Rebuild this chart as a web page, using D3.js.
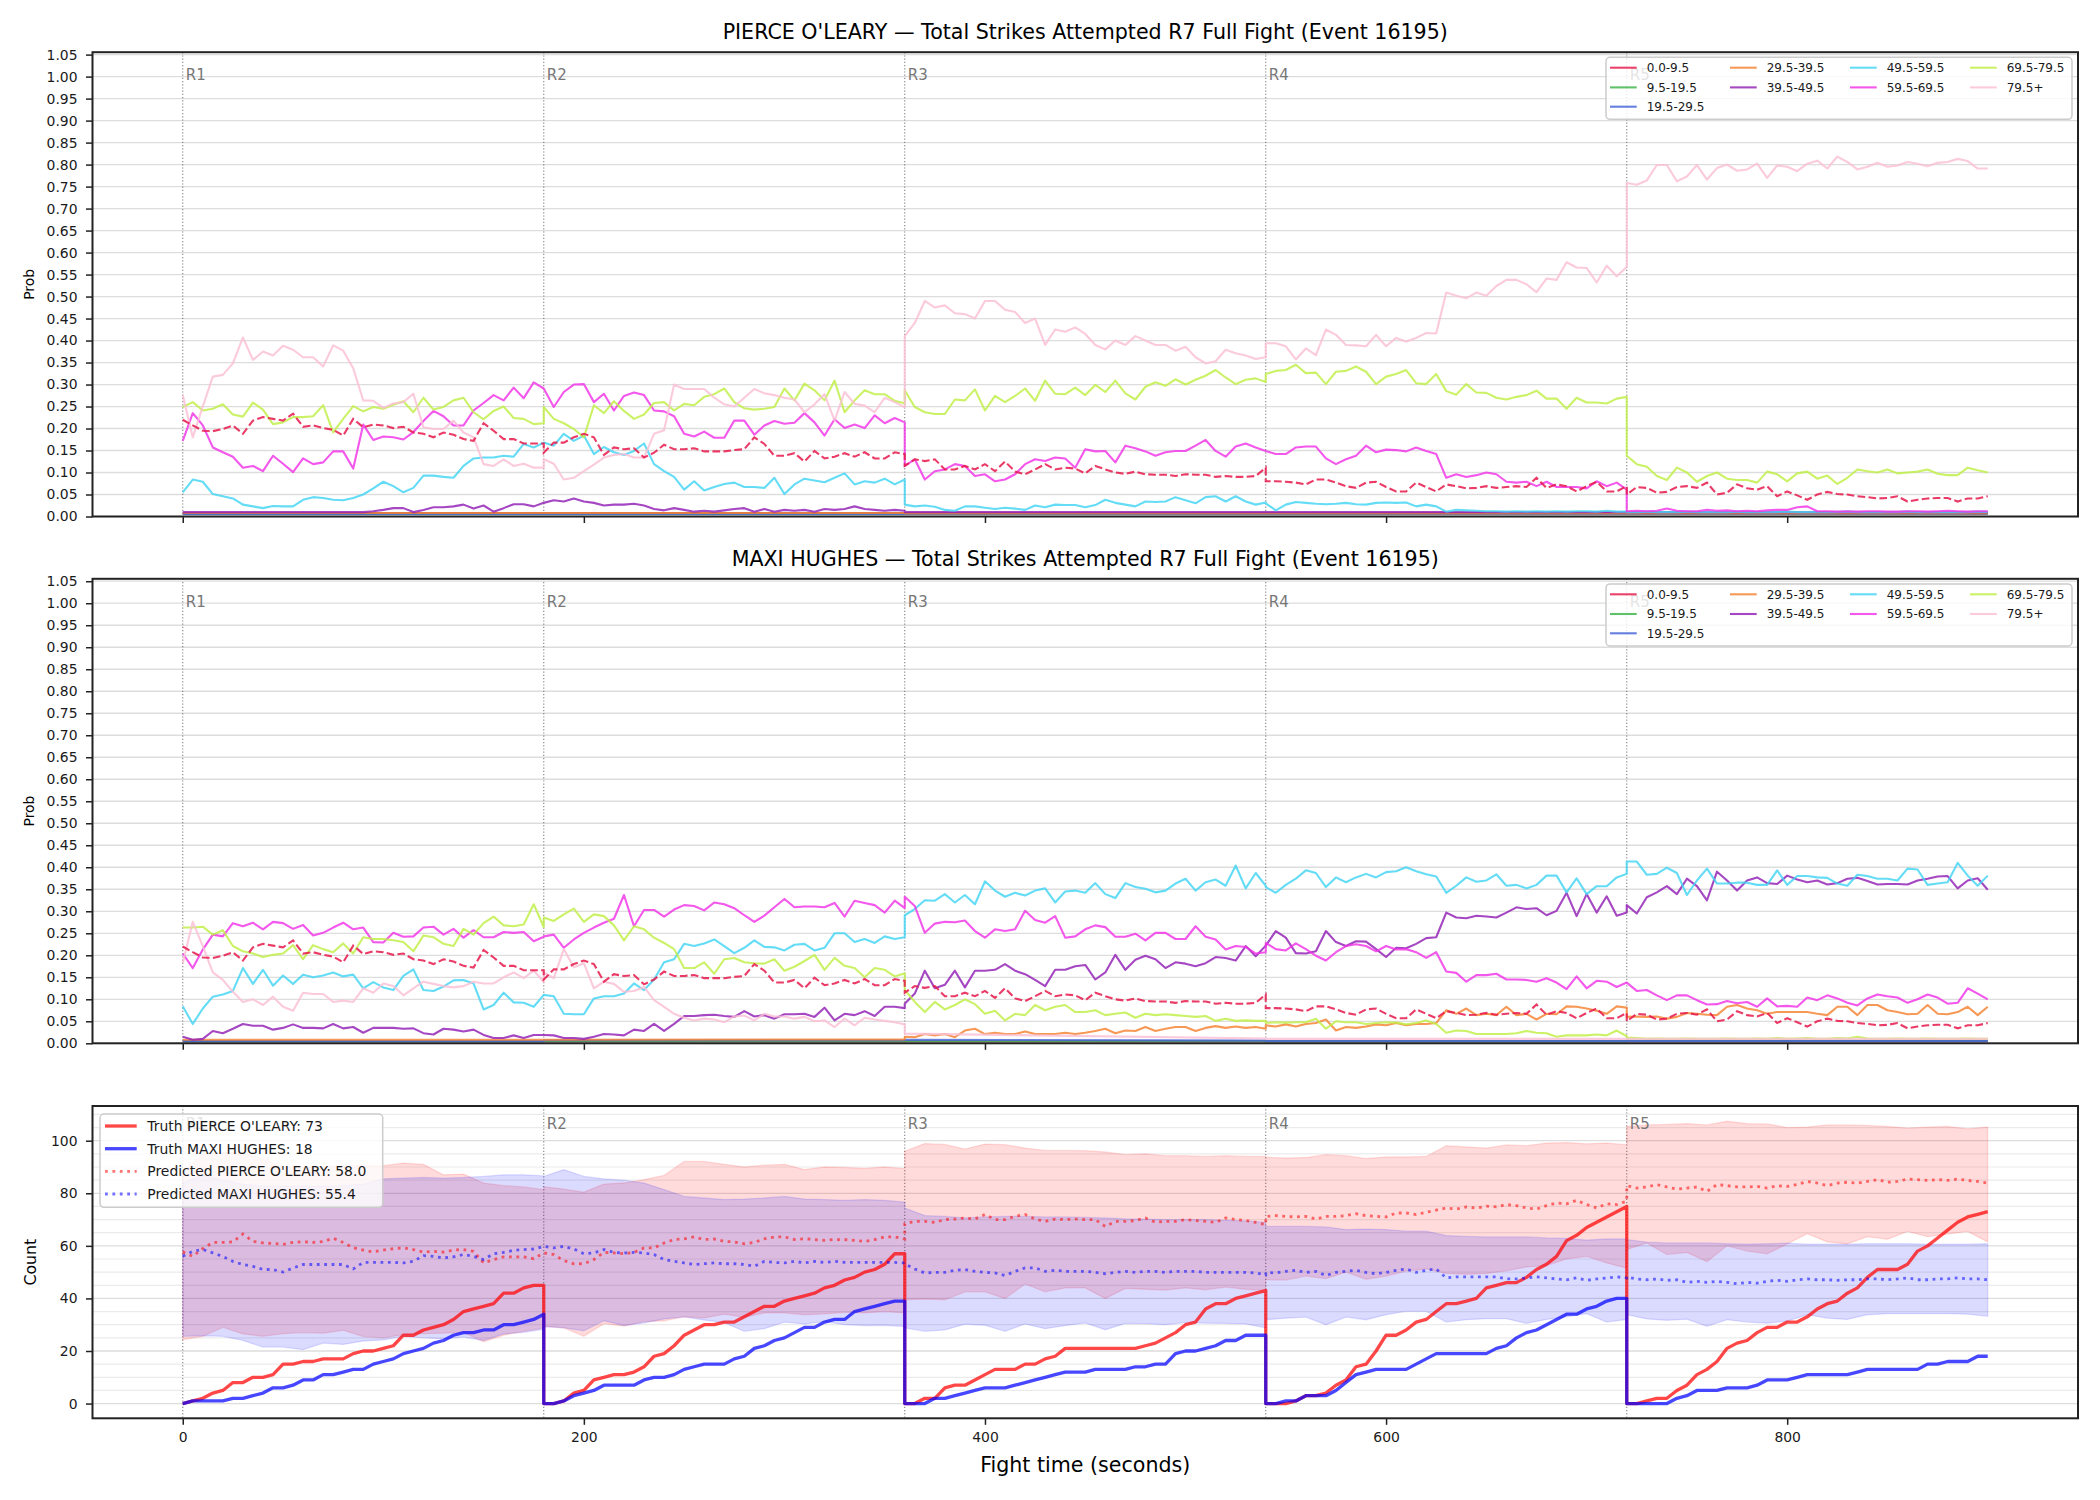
<!DOCTYPE html>
<html><head><meta charset="utf-8">
<script src="https://cdn.jsdelivr.net/npm/d3@7"></script>
<style>body{margin:0;background:#fff}svg{display:block;font-family:"DejaVu Sans",sans-serif}</style>
</head><body><svg id="c" width="2100" height="1500"></svg>
<script>
// ---------------- DATA ----------------
const fighterA = "PIERCE O'LEARY";
const fighterB = "MAXI HUGHES";
const titleSuffix = " — Total Strikes Attempted R7 Full Fight (Event 16195)";
const rounds = ["R1","R2","R3","R4","R5"];
const roundStarts = [0,180,360,540,720];
const timeTicks = [0,200,400,600,800];
const probTicks = [0,0.05,0.1,0.15,0.2,0.25,0.3,0.35,0.4,0.45,0.5,0.55,0.6,0.65,0.7,0.75,0.8,0.85,0.9,0.95,1.0,1.05];
const countTicks = [0,20,40,60,80,100];
const countMinor = [5,10,15,25,30,35,45,50,55,65,70,75,85,90,95,105,110];
const binLabels = ["0.0-9.5","9.5-19.5","19.5-29.5","29.5-39.5","39.5-49.5","49.5-59.5","59.5-69.5","69.5-79.5","79.5+"];
const binColors = ["#e6194b","#3cb44b","#4363d8","#f58231","#911eb4","#42d4f4","#f032e6","#bfef45","#fabed4"];

// each series: one array per round (values sampled evenly across the round)
const refDashed = [
 [0.22,0.207,0.195,0.194,0.199,0.207,0.188,0.218,0.226,0.222,0.218,0.234,0.204,0.207,0.201,0.197,0.184,0.222,0.203,0.209,0.207,0.201,0.204,0.191,0.188,0.18,0.191,0.186,0.176,0.172,0.212,0.195,0.176,0.176,0.166,0.166,0.166],
 [0.145,0.168,0.168,0.18,0.188,0.18,0.14,0.157,0.153,0.155,0.134,0.145,0.163,0.153,0.153,0.155,0.148,0.148,0.148,0.151,0.153,0.18,0.165,0.138,0.138,0.144,0.125,0.149,0.132,0.136,0.144,0.136,0.146,0.132,0.132,0.146,0.142],
 [0.115,0.13,0.126,0.13,0.107,0.107,0.115,0.107,0.119,0.103,0.125,0.102,0.096,0.107,0.119,0.107,0.111,0.109,0.098,0.115,0.107,0.1,0.097,0.102,0.096,0.095,0.095,0.092,0.096,0.095,0.095,0.09,0.092,0.09,0.09,0.092,0.111],
 [0.08,0.08,0.079,0.077,0.073,0.084,0.084,0.077,0.069,0.065,0.077,0.079,0.067,0.057,0.057,0.077,0.067,0.057,0.073,0.069,0.064,0.065,0.069,0.065,0.067,0.069,0.067,0.088,0.065,0.073,0.069,0.057,0.069,0.079,0.057,0.057,0.069],
 [0.05,0.067,0.065,0.054,0.056,0.067,0.069,0.065,0.077,0.05,0.054,0.073,0.064,0.061,0.069,0.046,0.057,0.048,0.038,0.05,0.056,0.051,0.05,0.046,0.044,0.041,0.042,0.046,0.034,0.038,0.041,0.042,0.042,0.034,0.041,0.041,0.046]
];

// ---- Panel 1 : PIERCE O'LEARY ----
const p1_b0 = [[0.008,0.008],[0.008,0.008],[0.008,0.008],[0.008,0.008],[0.008,0.008]];
const p1_b1 = [[0.006,0.006],[0.006,0.006],[0.006,0.006],[0.006,0.006],[0.006,0.006]];
const p1_b2 = [[0.006,0.006],[0.006,0.006],[0.006,0.006],[0.006,0.006],[0.006,0.006]];
const p1_b3 = [[0.008,0.008],[0.008,0.008],[0.007,0.007],[0.007,0.007],[0.007,0.007]];
const p1_b4 = [
 [0.01,0.01,0.01,0.01,0.01,0.01,0.01,0.01,0.01,0.01,0.01,0.01,0.01,0.01,0.01,0.01,0.01,0.01,0.01,0.012,0.015,0.019,0.019,0.01,0.015,0.021,0.021,0.023,0.027,0.018,0.025,0.011,0.019,0.028,0.028,0.023,0.031],
 [0.031,0.037,0.034,0.041,0.034,0.031,0.025,0.027,0.027,0.029,0.025,0.017,0.014,0.019,0.015,0.011,0.013,0.011,0.014,0.017,0.019,0.011,0.017,0.011,0.015,0.013,0.015,0.011,0.017,0.015,0.017,0.023,0.017,0.015,0.013,0.015,0.013],
 [0.01,0.01],[0.01,0.01],[0.01,0.01]
];
const p1_b5 = [
 [0.055,0.084,0.079,0.051,0.046,0.041,0.027,0.023,0.019,0.024,0.023,0.023,0.038,0.044,0.042,0.038,0.037,0.042,0.05,0.064,0.079,0.069,0.055,0.065,0.093,0.093,0.09,0.088,0.115,0.132,0.134,0.134,0.138,0.136,0.165,0.157,0.168],
 [0.168,0.161,0.188,0.172,0.184,0.142,0.158,0.146,0.14,0.149,0.166,0.119,0.103,0.09,0.061,0.08,0.059,0.067,0.074,0.077,0.067,0.067,0.065,0.088,0.051,0.073,0.086,0.082,0.078,0.088,0.098,0.073,0.08,0.077,0.086,0.073,0.084],
 [0.027,0.023,0.025,0.022,0.015,0.013,0.023,0.023,0.02,0.017,0.02,0.018,0.015,0.025,0.021,0.027,0.026,0.026,0.021,0.026,0.038,0.031,0.027,0.023,0.034,0.033,0.034,0.044,0.037,0.03,0.044,0.046,0.034,0.046,0.034,0.027,0.032],
 [0.03,0.014,0.027,0.033,0.031,0.029,0.028,0.029,0.031,0.028,0.027,0.031,0.032,0.031,0.032,0.023,0.027,0.023,0.011,0.015,0.014,0.013,0.012,0.012,0.011,0.012,0.011,0.012,0.011,0.012,0.011,0.012,0.012,0.011,0.013,0.011,0.011],
 [0.01,0.01,0.011,0.01,0.01,0.01,0.011,0.01,0.01,0.01,0.01,0.011,0.01,0.01,0.01,0.01,0.011,0.01,0.01,0.01,0.01,0.01,0.011,0.01,0.01,0.01,0.01,0.01,0.011,0.01,0.01,0.01,0.01,0.01,0.01,0.011,0.01]
];
const p1_b6 = [
 [0.172,0.235,0.207,0.157,0.146,0.136,0.111,0.115,0.103,0.138,0.12,0.101,0.132,0.119,0.123,0.148,0.148,0.109,0.209,0.174,0.182,0.18,0.175,0.192,0.217,0.24,0.228,0.207,0.207,0.241,0.258,0.276,0.264,0.293,0.269,0.305,0.291],
 [0.291,0.249,0.283,0.3,0.301,0.26,0.279,0.241,0.274,0.282,0.276,0.241,0.239,0.228,0.188,0.182,0.193,0.179,0.179,0.218,0.218,0.186,0.207,0.217,0.211,0.213,0.235,0.214,0.184,0.221,0.201,0.209,0.201,0.23,0.212,0.224,0.214],
 [0.115,0.13,0.084,0.103,0.107,0.119,0.115,0.092,0.096,0.08,0.084,0.096,0.119,0.13,0.126,0.134,0.132,0.111,0.153,0.148,0.149,0.123,0.161,0.155,0.148,0.138,0.146,0.149,0.149,0.161,0.174,0.149,0.136,0.159,0.166,0.157,0.149],
 [0.149,0.142,0.142,0.157,0.159,0.159,0.132,0.119,0.13,0.138,0.161,0.146,0.152,0.151,0.148,0.157,0.149,0.142,0.088,0.096,0.09,0.094,0.1,0.096,0.079,0.077,0.079,0.069,0.079,0.067,0.067,0.067,0.064,0.08,0.069,0.077,0.061],
 [0.012,0.013,0.012,0.013,0.018,0.013,0.012,0.012,0.015,0.013,0.014,0.012,0.013,0.012,0.014,0.015,0.015,0.021,0.023,0.012,0.012,0.011,0.012,0.011,0.012,0.012,0.011,0.011,0.012,0.012,0.011,0.012,0.013,0.012,0.011,0.012,0.012]
];
const p1_b7 = [
 [0.249,0.26,0.241,0.245,0.255,0.232,0.227,0.259,0.243,0.21,0.214,0.226,0.226,0.228,0.253,0.191,0.222,0.251,0.239,0.249,0.245,0.254,0.262,0.237,0.27,0.243,0.249,0.264,0.27,0.237,0.221,0.24,0.25,0.224,0.222,0.21,0.212],
 [0.249,0.222,0.212,0.199,0.18,0.253,0.235,0.262,0.24,0.222,0.232,0.258,0.26,0.241,0.256,0.253,0.272,0.278,0.291,0.26,0.246,0.243,0.245,0.249,0.291,0.264,0.302,0.287,0.264,0.309,0.237,0.264,0.287,0.278,0.278,0.263,0.257],
 [0.287,0.249,0.237,0.233,0.233,0.266,0.264,0.289,0.241,0.274,0.26,0.274,0.291,0.263,0.309,0.279,0.278,0.293,0.276,0.299,0.283,0.309,0.28,0.266,0.295,0.305,0.297,0.312,0.3,0.311,0.32,0.333,0.316,0.301,0.311,0.314,0.306],
 [0.324,0.331,0.333,0.345,0.326,0.327,0.301,0.329,0.331,0.341,0.329,0.301,0.318,0.324,0.333,0.303,0.301,0.324,0.285,0.277,0.301,0.282,0.281,0.27,0.266,0.272,0.276,0.286,0.268,0.268,0.245,0.27,0.259,0.259,0.257,0.268,0.272],
 [0.138,0.119,0.113,0.092,0.083,0.111,0.1,0.079,0.092,0.1,0.086,0.083,0.083,0.077,0.102,0.096,0.08,0.098,0.102,0.086,0.093,0.074,0.088,0.107,0.103,0.1,0.107,0.098,0.1,0.102,0.107,0.097,0.094,0.094,0.111,0.105,0.1]
];
const p1_b8 = [
 [0.276,0.18,0.25,0.318,0.322,0.348,0.407,0.356,0.375,0.366,0.388,0.379,0.362,0.362,0.341,0.389,0.377,0.337,0.264,0.263,0.247,0.257,0.26,0.279,0.203,0.199,0.199,0.218,0.191,0.18,0.119,0.115,0.13,0.115,0.12,0.111,0.111],
 [0.13,0.12,0.084,0.088,0.103,0.118,0.134,0.14,0.142,0.134,0.134,0.188,0.196,0.3,0.29,0.29,0.29,0.27,0.255,0.25,0.27,0.29,0.28,0.276,0.27,0.266,0.237,0.255,0.278,0.218,0.283,0.256,0.252,0.237,0.27,0.26,0.248],
 [0.41,0.44,0.49,0.475,0.48,0.462,0.46,0.45,0.49,0.49,0.47,0.465,0.44,0.45,0.39,0.425,0.42,0.43,0.415,0.39,0.38,0.4,0.39,0.41,0.4,0.39,0.39,0.377,0.386,0.362,0.348,0.353,0.379,0.371,0.366,0.358,0.362],
 [0.394,0.394,0.387,0.357,0.382,0.367,0.425,0.413,0.39,0.389,0.387,0.413,0.387,0.406,0.398,0.406,0.417,0.416,0.509,0.502,0.496,0.509,0.502,0.524,0.538,0.538,0.528,0.51,0.541,0.538,0.578,0.566,0.565,0.532,0.57,0.546,0.567],
 [0.758,0.754,0.764,0.799,0.799,0.762,0.773,0.799,0.766,0.792,0.8,0.786,0.789,0.802,0.77,0.798,0.795,0.785,0.802,0.809,0.791,0.818,0.806,0.789,0.795,0.804,0.795,0.798,0.806,0.802,0.796,0.804,0.806,0.813,0.808,0.791,0.791]
];

// ---- Panel 2 : MAXI HUGHES ----
const p2_b0 = [[0.005,0.005],[0.005,0.005],[0.005,0.005],[0.005,0.005],[0.005,0.005]];
const p2_b1 = [[0.005,0.005],[0.005,0.005],[0.005,0.005],[0.005,0.005],[0.006,0.006]];
const p2_b2 = [[0.005,0.005],[0.007,0.007],[0.008,0.006],[0.005,0.005],[0.005,0.005]];
const p2_b3 = [
 [0.008,0.008],[0.008,0.009],
 [0.015,0.014,0.021,0.018,0.021,0.014,0.029,0.033,0.021,0.024,0.021,0.021,0.027,0.021,0.021,0.021,0.024,0.021,0.024,0.028,0.033,0.023,0.029,0.028,0.037,0.028,0.033,0.037,0.037,0.028,0.035,0.039,0.035,0.038,0.035,0.037,0.033],
 [0.041,0.038,0.043,0.038,0.044,0.046,0.054,0.029,0.037,0.035,0.038,0.043,0.041,0.046,0.041,0.044,0.044,0.046,0.075,0.067,0.079,0.064,0.067,0.064,0.083,0.064,0.067,0.054,0.067,0.066,0.084,0.083,0.079,0.074,0.067,0.084,0.081],
 [0.06,0.061,0.06,0.061,0.056,0.06,0.069,0.067,0.065,0.064,0.083,0.087,0.079,0.075,0.067,0.071,0.071,0.071,0.071,0.067,0.064,0.083,0.083,0.064,0.087,0.087,0.075,0.071,0.066,0.067,0.087,0.067,0.066,0.071,0.083,0.064,0.083]
];
const p2_b4 = [
 [0.015,0.008,0.01,0.028,0.023,0.033,0.044,0.04,0.04,0.031,0.035,0.043,0.035,0.035,0.034,0.044,0.034,0.037,0.024,0.035,0.035,0.035,0.033,0.034,0.023,0.02,0.033,0.031,0.027,0.031,0.019,0.012,0.012,0.018,0.012,0.019,0.019],
 [0.019,0.018,0.012,0.012,0.01,0.015,0.021,0.02,0.018,0.031,0.028,0.044,0.028,0.044,0.062,0.062,0.064,0.065,0.062,0.06,0.073,0.061,0.064,0.056,0.066,0.066,0.067,0.06,0.081,0.052,0.067,0.064,0.073,0.062,0.083,0.083,0.08],
 [0.09,0.113,0.165,0.125,0.133,0.165,0.127,0.165,0.165,0.167,0.18,0.165,0.157,0.144,0.13,0.167,0.167,0.175,0.178,0.145,0.161,0.201,0.167,0.19,0.199,0.191,0.171,0.184,0.181,0.175,0.182,0.196,0.194,0.188,0.221,0.198,0.222],
 [0.222,0.255,0.24,0.205,0.204,0.209,0.255,0.23,0.221,0.232,0.231,0.214,0.196,0.217,0.216,0.226,0.239,0.241,0.297,0.286,0.284,0.29,0.288,0.286,0.297,0.309,0.305,0.307,0.291,0.301,0.342,0.289,0.339,0.297,0.334,0.29,0.297],
 [0.314,0.295,0.332,0.343,0.357,0.339,0.374,0.357,0.325,0.39,0.37,0.347,0.37,0.377,0.364,0.362,0.381,0.372,0.366,0.37,0.361,0.364,0.374,0.376,0.369,0.361,0.362,0.362,0.361,0.37,0.374,0.379,0.38,0.352,0.37,0.375,0.349]
];
const p2_b5 = [
 [0.084,0.044,0.079,0.106,0.111,0.119,0.171,0.135,0.167,0.131,0.154,0.135,0.156,0.15,0.154,0.161,0.152,0.156,0.125,0.139,0.127,0.121,0.153,0.168,0.121,0.119,0.129,0.143,0.144,0.136,0.077,0.087,0.115,0.093,0.092,0.083,0.11],
 [0.11,0.107,0.067,0.066,0.066,0.102,0.107,0.107,0.113,0.136,0.121,0.145,0.184,0.191,0.226,0.221,0.227,0.236,0.221,0.205,0.217,0.234,0.219,0.218,0.211,0.224,0.226,0.211,0.217,0.25,0.25,0.23,0.237,0.228,0.243,0.237,0.241],
 [0.291,0.305,0.325,0.324,0.339,0.32,0.337,0.316,0.368,0.347,0.333,0.342,0.336,0.347,0.352,0.32,0.345,0.347,0.342,0.364,0.339,0.33,0.364,0.355,0.351,0.343,0.347,0.363,0.374,0.347,0.366,0.372,0.358,0.404,0.352,0.387,0.358],
 [0.355,0.342,0.36,0.374,0.393,0.387,0.355,0.377,0.366,0.377,0.385,0.377,0.389,0.391,0.4,0.391,0.384,0.379,0.342,0.358,0.377,0.367,0.37,0.384,0.358,0.36,0.352,0.36,0.381,0.381,0.343,0.375,0.339,0.357,0.357,0.377,0.385],
 [0.413,0.413,0.383,0.385,0.399,0.387,0.337,0.37,0.397,0.363,0.363,0.365,0.365,0.36,0.36,0.393,0.36,0.38,0.38,0.377,0.376,0.363,0.358,0.383,0.38,0.374,0.374,0.37,0.397,0.395,0.36,0.363,0.366,0.41,0.381,0.358,0.381]
];
const p2_b6 = [
 [0.204,0.171,0.213,0.247,0.243,0.273,0.266,0.274,0.259,0.276,0.273,0.26,0.269,0.245,0.251,0.263,0.274,0.259,0.263,0.23,0.229,0.251,0.242,0.243,0.263,0.265,0.247,0.26,0.24,0.257,0.241,0.241,0.253,0.251,0.253,0.232,0.242],
 [0.243,0.247,0.217,0.236,0.251,0.263,0.274,0.283,0.337,0.266,0.303,0.303,0.288,0.304,0.314,0.312,0.302,0.32,0.316,0.307,0.291,0.276,0.29,0.309,0.328,0.309,0.311,0.311,0.309,0.319,0.288,0.324,0.319,0.314,0.297,0.324,0.307],
 [0.333,0.312,0.251,0.272,0.276,0.275,0.279,0.255,0.24,0.259,0.255,0.259,0.301,0.28,0.274,0.289,0.24,0.243,0.259,0.268,0.264,0.242,0.242,0.249,0.234,0.251,0.251,0.237,0.237,0.266,0.242,0.236,0.213,0.221,0.219,0.204,0.207],
 [0.228,0.214,0.211,0.227,0.214,0.199,0.188,0.207,0.221,0.225,0.221,0.209,0.221,0.213,0.214,0.207,0.194,0.207,0.163,0.16,0.14,0.155,0.155,0.158,0.145,0.145,0.144,0.14,0.148,0.138,0.123,0.152,0.125,0.142,0.14,0.128,0.138],
 [0.138,0.119,0.121,0.109,0.098,0.109,0.109,0.098,0.088,0.089,0.096,0.091,0.094,0.083,0.102,0.084,0.085,0.083,0.104,0.098,0.109,0.102,0.092,0.086,0.102,0.111,0.107,0.104,0.092,0.1,0.111,0.104,0.09,0.092,0.125,0.113,0.1]
];
const p2_b7 = [
 [0.263,0.263,0.265,0.247,0.257,0.221,0.209,0.204,0.196,0.201,0.204,0.223,0.191,0.223,0.214,0.207,0.227,0.204,0.241,0.237,0.237,0.234,0.23,0.209,0.245,0.241,0.226,0.221,0.26,0.247,0.273,0.288,0.268,0.266,0.27,0.316,0.264],
 [0.286,0.278,0.293,0.306,0.276,0.293,0.289,0.268,0.234,0.266,0.259,0.24,0.228,0.214,0.171,0.171,0.184,0.158,0.191,0.194,0.184,0.182,0.181,0.191,0.165,0.174,0.187,0.201,0.167,0.194,0.176,0.171,0.15,0.171,0.167,0.152,0.159],
 [0.121,0.094,0.071,0.094,0.077,0.087,0.1,0.089,0.067,0.074,0.052,0.067,0.064,0.087,0.075,0.083,0.087,0.071,0.071,0.075,0.064,0.067,0.07,0.058,0.067,0.064,0.066,0.064,0.062,0.06,0.062,0.051,0.056,0.051,0.052,0.051,0.051],
 [0.046,0.048,0.047,0.048,0.048,0.056,0.033,0.05,0.048,0.048,0.044,0.046,0.048,0.047,0.043,0.046,0.052,0.044,0.024,0.029,0.028,0.021,0.021,0.021,0.021,0.023,0.028,0.024,0.023,0.015,0.018,0.018,0.018,0.02,0.018,0.029,0.016],
 [0.013,0.012,0.01,0.011,0.01,0.01,0.011,0.01,0.01,0.01,0.011,0.01,0.01,0.011,0.01,0.012,0.01,0.011,0.012,0.01,0.01,0.012,0.011,0.015,0.011,0.01,0.01,0.011,0.01,0.01,0.011,0.01,0.01,0.01,0.011,0.01,0.01]
];
const p2_b8 = [
 [0.182,0.276,0.221,0.161,0.144,0.117,0.094,0.1,0.087,0.106,0.083,0.074,0.115,0.112,0.112,0.094,0.097,0.094,0.125,0.115,0.136,0.13,0.109,0.125,0.14,0.135,0.13,0.127,0.13,0.14,0.136,0.136,0.15,0.161,0.148,0.165,0.14],
 [0.161,0.148,0.214,0.173,0.182,0.125,0.14,0.135,0.117,0.119,0.128,0.098,0.083,0.067,0.058,0.052,0.056,0.054,0.048,0.061,0.063,0.052,0.067,0.061,0.061,0.056,0.06,0.05,0.052,0.037,0.056,0.041,0.058,0.054,0.051,0.048,0.043],
 [0.022,0.011],[0.01,0.01],[0.01,0.01]
];

// ---- Panel 3 : counts ----
const truthA = [
 [0,1,2,4,5,8,8,10,10,11,15,15,16,16,17,17,17,19,20,20,21,22,26,26,28,29,30,32,35,36,37,38,42,42,44,45,45],
 [0,0,1,4,5,9,10,11,11,12,14,18,19,22,26,28,30,30,31,31,33,35,37,37,39,40,41,42,44,45,47,48,50,51,53,57,57],
 [0,0,2,2,6,7,7,9,11,13,13,13,15,15,17,18,21,21,21,21,21,21,21,21,22,23,25,27,30,31,36,38,38,40,41,42,43],
 [0,0,0,1,3,3,4,7,9,14,15,20,26,26,28,31,32,35,38,38,39,40,44,45,46,46,48,51,53,56,62,64,67,69,71,73,75],
 [0,0,1,2,2,5,7,11,13,16,21,23,24,27,29,29,31,31,33,36,38,39,42,44,48,51,51,51,53,58,60,63,66,69,71,72,73]
];
const truthB = [
 [0,1,1,1,1,2,2,3,4,6,6,7,9,9,11,11,12,13,13,15,16,17,19,20,21,23,24,26,27,27,28,28,30,30,31,32,34],
 [0,0,1,3,4,5,7,7,7,7,9,10,10,11,13,14,15,15,15,17,18,21,22,24,25,27,29,29,31,32,32,35,36,37,38,39,39],
 [0,0,0,2,2,3,4,5,6,6,6,7,8,9,10,11,12,12,12,13,13,13,13,14,14,15,15,19,20,20,21,22,24,24,26,26,26],
 [0,0,1,1,3,3,3,5,8,11,12,13,13,13,13,15,17,19,19,19,19,19,19,21,22,25,27,28,30,32,34,34,36,37,39,40,40],
 [0,0,0,0,0,2,3,5,5,5,6,6,6,7,9,9,9,10,11,11,11,11,11,12,13,13,13,13,13,13,15,15,16,16,16,18,18]
];
const predA = [
 [57.7,56,59,61.3,61.3,61.5,64.5,61.7,61.1,60.9,60.6,61.3,61.6,61.3,61.6,62.9,61.3,59.3,58.4,57.7,58.4,58.9,59.3,58.6,57.6,57.9,57.6,58.4,58.6,57.9,53.5,54.8,55.8,55.8,55.8,55.1,57.3],
 [57.3,56.7,54.4,53.2,53.2,54.8,57.5,57.3,57,57.5,59.2,59.2,61.1,62.4,62.7,63.4,62.4,62.6,61.7,61.5,60.8,61.3,62.7,63.4,63.4,62.4,62.7,62.4,62.1,62.4,62.4,62.1,61.7,62.4,63.4,63.4,62.6],
 [68.4,69.3,69.3,68.9,70,70.2,70.6,70.2,71.9,70,70,71.2,71.9,70.2,69.3,70.2,70,70.2,70,70,67.4,69.3,69.3,69.6,70.6,69,69.3,69.3,70,69.6,69.3,68.9,70.6,70,69.7,68.9,68.1],
 [71.2,71.5,71.2,71,71.2,70.2,71.2,71.2,71.5,72.2,71.5,71.2,71,72.5,72.5,71.9,72.8,73.6,74.4,74,74.8,74.4,75.1,74.8,75.7,75.3,74.4,74,75.3,76.3,76,77.3,75.7,74.4,76,75.7,77],
 [82.9,82,82.4,83.3,82.4,81.6,82,82.4,80.7,83.3,82.9,82.4,82.4,82.6,82,82.9,82.6,83.3,84.5,83.9,82.9,83.9,84.2,83.9,84.5,85.2,84.2,84.5,85.4,85.2,84.9,85.2,84.9,85.4,84.9,84.5,83.9]
];
const predB = [
 [56,57.9,58.6,57.3,56,54.1,52.9,52.2,51,51,50,51.6,52.9,52.9,52.9,52.9,52.9,51.2,53.7,53.7,53.7,53.7,53.5,54.1,56.3,56,55.4,55.8,56.7,56,54.8,57,57.5,58.3,58.6,58.8,59.8],
 [59.8,59.2,59.8,58.8,57,57.3,58.6,57.5,57.3,57.5,57.3,56.7,54.8,54.1,53.5,52.9,53.2,53.5,53.2,53.2,52.9,52.2,54.1,53.7,53.5,54.1,53.5,54.1,53.7,54.1,53.7,53.7,53.7,53.7,53.7,53.7,53.5],
 [53.2,51.2,49.7,49.9,49.9,50.7,51,50.3,49.9,49.7,48.7,50.3,51.6,51.6,50.3,50.7,50.3,50.3,50.3,49.9,49.4,49.9,50.3,49.9,50.3,50.3,49.9,50.3,50.3,50.3,49.9,49.9,49.9,49.9,49.9,49.7,49],
 [49.9,49.7,50.3,50.7,49.9,50.3,48.7,49.9,50.3,50.7,49.9,49.4,49.9,50.7,51.2,49.9,50.7,51.2,47.8,48.2,48.2,48.2,48.2,48.2,47.4,47.4,47.8,48.2,47.8,47.4,47.1,47.8,46.9,47.4,47.8,48.2,47.8],
 [48.2,47.4,47.1,47.4,46.9,47.1,46.1,46.5,46.1,46.5,46.1,45.6,46.1,45.8,46.5,46.9,46.5,47.1,47.4,47.1,47.1,46.9,47.1,47.1,47.4,47.4,47.1,47.4,47.8,47.1,47.1,47.4,47.4,47.8,47.4,47.4,47.1]
];
const bandAHi = [
 [88,95,95.5,95.5,93,90,90,90,90.5,90.5,90.5,91.5,91,87,87.3,83.9,82.9,82.4,81.4],
 [82.5,81.6,80.4,83.5,83.9,85.2,86.8,92.1,92.1,91,90,90.7,91,89,90,89.8,89.5,90,89.4],
 [96,98.9,98.6,96.8,98.7,98.5,97.2,96.3,96.3,96.2,95.7,94.7,95,94.3,94.3,94,94.3,94,94],
 [93.7,93.4,93.6,94.7,94.3,93.2,93.8,93.8,94,98.1,97.6,97.2,98.4,98.1,99.1,99.3,98.8,99.1,98.5],
 [105.4,106,106.2,106.5,106,107.4,106.5,106.4,105,105.2,106,106,105.8,105.4,104.8,105.2,105.4,104.5,105.2]
];
const bandALo = [
 [24.3,25.6,29,26.5,25.6,26.6,27,26.8,27.9,25.5,25,26.2,26.6,26.8,27.1,23.5,26,27.5,28.8],
 [29.4,28.8,25.6,30.4,29.5,31.2,31.5,33,32.6,34,32.8,34.5,34.5,33.8,34.1,34.7,34.5,35,34.5],
 [39.5,39.7,39.5,42.5,42.5,40,45.5,42.5,44,44,40,43.8,43.5,43.2,44,43.3,44.3,43.5,43.1],
 [47.1,47,48.5,47.5,50,47.3,48.5,50.4,51.2,49.5,49.2,49.5,50.5,52,52.5,55,56,53.5,51.5],
 [58.6,61.1,56.7,57.5,54,60,58,57,60.7,64.6,61.5,60.8,63.5,62.5,65.5,63.5,64.5,65.5,61.5]
];
const bandBHi = [
 [84,87,85,83.5,82.7,82.7,82.7,82.7,83,83.5,85.5,85.8,86,85.8,86,86.4,87,87,86.6],
 [86.4,89,86.4,85.5,85,83.9,81.4,78.8,78.2,77.6,77.8,78.2,78.8,77.8,77.6,77.3,77.6,77.3,76.6],
 [74.4,71.5,71.2,70.6,71,71.2,71.2,71,71,70.8,70.6,70.3,70.2,70,70,70,69.7,69.5,68.9],
 [67.4,67.4,67.4,67.2,66.2,66.4,66.2,65.6,65.6,63.9,63.6,63.4,63.4,63.4,63,62.8,62.2,62.6,62.6],
 [62.4,61.4,61.1,61.1,61.1,60.8,60.6,60.8,61,60.6,60.6,60.6,60.8,60.8,60.8,60.6,60.6,60.6,60.8]
];
const bandBLo = [
 [25.6,25.8,25.6,24,21.5,21.5,20.5,23,22.5,23.8,24.2,25.6,25,24.6,25.3,24,26.5,27.1,28.3],
 [29.3,28.8,27.7,31.5,29.7,30.7,32.2,33,31.8,30.8,27.5,28.5,31,30.3,31.2,30,29.7,29.8,29.3],
 [28.8,27.5,28,30.2,29.8,27.5,30.3,28.5,29.7,30.7,28.1,30.5,30.4,30,30.8,30.6,30.5,30.3,28.8],
 [31.9,32.5,32.9,30,32.9,31.9,33.8,35.1,35.1,31,31.9,32.3,32.3,30.5,32,33,34.2,31,32],
 [33.8,32.2,31.7,32.1,29.4,31.9,31,30.6,31.4,33.8,32.5,32,33.8,34.2,34.2,34.2,34.2,34,33.2]
];
const legend3 = [
 {label:"Truth PIERCE O'LEARY: 73", color:"red", dash:null},
 {label:"Truth MAXI HUGHES: 18", color:"blue", dash:null},
 {label:"Predicted PIERCE O'LEARY: 58.0", color:"red", dash:"2.8,4.6"},
 {label:"Predicted MAXI HUGHES: 55.4", color:"blue", dash:"2.8,4.6"}
];

// ---------------- DRAWING ----------------
function expand(rs){const pts=[];rs.forEach((arr,r)=>{const dt=180/(arr.length-1);arr.forEach((v,k)=>pts.push([r*180+k*dt,v]));});return pts;}

const svg=d3.select("#c");
const X0=92.5, X1=2078, XC=(X0+X1)/2;
const x=d3.scaleLinear().domain([-45,945]).range([X0,X1]);
const P=[{top:52.2,bottom:516.5},{top:578.8,bottom:1043.3},{top:1106,bottom:1418.3}];
const yP=[0,1].map(i=>d3.scaleLinear().domain([0,1.0555]).range([P[i].bottom,P[i].top]));
const yC=d3.scaleLinear().domain([-5.6,113.2]).range([P[2].bottom,P[2].top]);
const TXT="#1a1a1a";

P.forEach((p,i)=>{
  svg.append("clipPath").attr("id","clip"+i).append("rect")
    .attr("x",X0).attr("y",p.top).attr("width",X1-X0).attr("height",p.bottom-p.top);
});

function gridAndRounds(i,y,ticks,minor,labelOffset){
  const p=P[i], g=svg.append("g");
  (minor||[]).forEach(v=>g.append("line").attr("x1",X0).attr("x2",X1).attr("y1",y(v)).attr("y2",y(v))
      .attr("stroke","#ebebeb").attr("stroke-width",1.2));
  ticks.forEach(v=>g.append("line").attr("x1",X0).attr("x2",X1).attr("y1",y(v)).attr("y2",y(v))
      .attr("stroke","#dddddd").attr("stroke-width",1.3));
  roundStarts.forEach(t=>g.append("line").attr("x1",x(t)).attr("x2",x(t)).attr("y1",p.top).attr("y2",p.bottom)
      .attr("stroke","#555").attr("stroke-opacity",0.75).attr("stroke-width",1.1).attr("stroke-dasharray","1.2,2"));
}
function roundLabels(i,baseOff){
  const p=P[i];
  roundStarts.forEach((t,k)=>svg.append("text").attr("x",x(t)+3).attr("y",p.top+baseOff)
     .attr("font-size",15).attr("fill","#777").text(rounds[k]));
}
function axes(i,y,ticks,fmt,showX){
  const p=P[i];
  const ga=svg.append("g").attr("transform",`translate(${X0},0)`)
    .call(d3.axisLeft(y).tickValues(ticks).tickFormat(fmt).tickSize(6.5).tickPadding(8.5));
  ga.select(".domain").remove();
  ga.selectAll("line").attr("stroke","#222").attr("stroke-width",1.5);
  ga.selectAll("text").attr("font-size",13.9).attr("fill",TXT).attr("font-family",'"DejaVu Sans",sans-serif');
  const gx=svg.append("g").attr("transform",`translate(0,${p.bottom})`)
    .call(d3.axisBottom(x).tickValues(timeTicks).tickSize(6.5).tickPadding(7).tickFormat(showX?d3.format("d"):()=>""));
  gx.select(".domain").remove();
  gx.selectAll("line").attr("stroke","#222").attr("stroke-width",1.5);
  gx.selectAll("text").attr("font-size",13.9).attr("fill",TXT).attr("font-family",'"DejaVu Sans",sans-serif');
  svg.append("rect").attr("x",X0).attr("y",p.top).attr("width",X1-X0).attr("height",p.bottom-p.top)
    .attr("fill","none").attr("stroke","#222").attr("stroke-width",2);
}

// ---- probability panels ----
function probPanel(i,name,series){
  const y=yP[i], p=P[i];
  gridAndRounds(i,y,probTicks,null);
  const line=d3.line().x(d=>x(d[0])).y(d=>y(d[1]));
  const g=svg.append("g").attr("clip-path",`url(#clip${i})`);
  series.forEach((s,k)=>g.append("path").attr("d",line(expand(s))).attr("fill","none")
     .attr("stroke",binColors[k]).attr("stroke-opacity",0.82).attr("stroke-width",2.1).attr("stroke-linejoin","round"));
  g.append("path").attr("d",line(expand(refDashed))).attr("fill","none").attr("stroke",binColors[0])
     .attr("stroke-opacity",0.85).attr("stroke-width",2.1).attr("stroke-dasharray","7.7,3.3");
  roundLabels(i,28);
  // legend
  const lg=svg.append("g");
  lg.append("rect").attr("x",1606).attr("y",p.top+5.1).attr("width",466).attr("height",62).attr("rx",4)
    .attr("fill","white").attr("fill-opacity",0.8).attr("stroke","#cccccc").attr("stroke-width",1.5);
  const colX=[1610,1730,1850,1970], rowY=[15.5,35.2,54.5];
  const layout=[[0,0],[0,1],[0,2],[1,0],[1,1],[2,0],[2,1],[3,0],[3,1]];
  binLabels.forEach((lab,k)=>{
    const [c,r]=layout[k], yy=p.top+rowY[r];
    lg.append("line").attr("x1",colX[c]).attr("x2",colX[c]+26.7).attr("y1",yy).attr("y2",yy)
      .attr("stroke",binColors[k]).attr("stroke-opacity",0.82).attr("stroke-width",2.1);
    lg.append("text").attr("x",colX[c]+36.7).attr("y",yy+4.4).attr("font-size",12).attr("fill",TXT).text(lab);
  });
  axes(i,y,probTicks,d3.format(".2f"),false);
  svg.append("text").attr("x",XC).attr("y",p.top-12.9).attr("text-anchor","middle").attr("font-size",20.6)
    .attr("fill","#000").text(name+titleSuffix);
  const cy=(p.top+p.bottom)/2;
  svg.append("text").attr("transform",`translate(33.5,${cy}) rotate(-90)`).attr("text-anchor","middle")
    .attr("font-size",13.9).attr("fill","#000").text("Prob");
}
probPanel(0,fighterA,[p1_b0,p1_b1,p1_b2,p1_b3,p1_b4,p1_b5,p1_b6,p1_b7,p1_b8]);
probPanel(1,fighterB,[p2_b0,p2_b1,p2_b2,p2_b3,p2_b4,p2_b5,p2_b6,p2_b7,p2_b8]);

// ---- count panel ----
(function(){
  const i=2, p=P[2], y=yC;
  gridAndRounds(i,y,countTicks,countMinor);
  const g=svg.append("g").attr("clip-path","url(#clip2)");
  const area=d3.area().x(d=>x(d[0])).y0(d=>y(d[1])).y1(d=>y(d[2]));
  function band(lo,hi,color){
    const L=expand(lo),H=expand(hi);
    const pts=L.map((d,k)=>[d[0],d[1],H[k][1]]);
    g.append("path").attr("d",area(pts)).attr("fill",color).attr("fill-opacity",0.14)
      .attr("stroke",color).attr("stroke-opacity",0.12).attr("stroke-width",1.3);
  }
  band(bandALo,bandAHi,"red");
  band(bandBLo,bandBHi,"blue");
  const line=d3.line().x(d=>x(d[0])).y(d=>y(d[1]));
  g.append("path").attr("d",line(expand(truthA))).attr("fill","none").attr("stroke","red").attr("stroke-opacity",0.72).attr("stroke-width",3.3).attr("stroke-linejoin","round");
  g.append("path").attr("d",line(expand(truthB))).attr("fill","none").attr("stroke","blue").attr("stroke-opacity",0.72).attr("stroke-width",3.3).attr("stroke-linejoin","round");
  g.append("path").attr("d",line(expand(predA))).attr("fill","none").attr("stroke","red").attr("stroke-opacity",0.55).attr("stroke-width",2.8).attr("stroke-dasharray","2.8,4.6");
  g.append("path").attr("d",line(expand(predB))).attr("fill","none").attr("stroke","blue").attr("stroke-opacity",0.55).attr("stroke-width",2.8).attr("stroke-dasharray","2.8,4.6");
  roundLabels(i,22.5);
  const lg=svg.append("g");
  lg.append("rect").attr("x",100).attr("y",1114).attr("width",282.7).attr("height",93.3).attr("rx",4)
    .attr("fill","white").attr("fill-opacity",0.8).attr("stroke","#cccccc").attr("stroke-width",1.5);
  const rows=[1126,1148.7,1171.3,1194];
  legend3.forEach((e,k)=>{
    lg.append("line").attr("x1",105).attr("x2",136.7).attr("y1",rows[k]).attr("y2",rows[k])
      .attr("stroke",e.color).attr("stroke-opacity",e.dash?0.55:0.72).attr("stroke-width",e.dash?2.8:3.3)
      .attr("stroke-dasharray",e.dash);
    lg.append("text").attr("x",147.3).attr("y",rows[k]+5).attr("font-size",13.9).attr("fill",TXT).text(e.label);
  });
  axes(i,y,countTicks,d3.format("d"),true);
  svg.append("text").attr("transform",`translate(36,${(p.top+p.bottom)/2}) rotate(-90)`).attr("text-anchor","middle")
    .attr("font-size",15.8).attr("fill","#000").text("Count");
  svg.append("text").attr("x",XC).attr("y",1471.7).attr("text-anchor","middle").attr("font-size",20.6)
    .attr("fill","#000").text("Fight time (seconds)");
})();
</script></body></html>
